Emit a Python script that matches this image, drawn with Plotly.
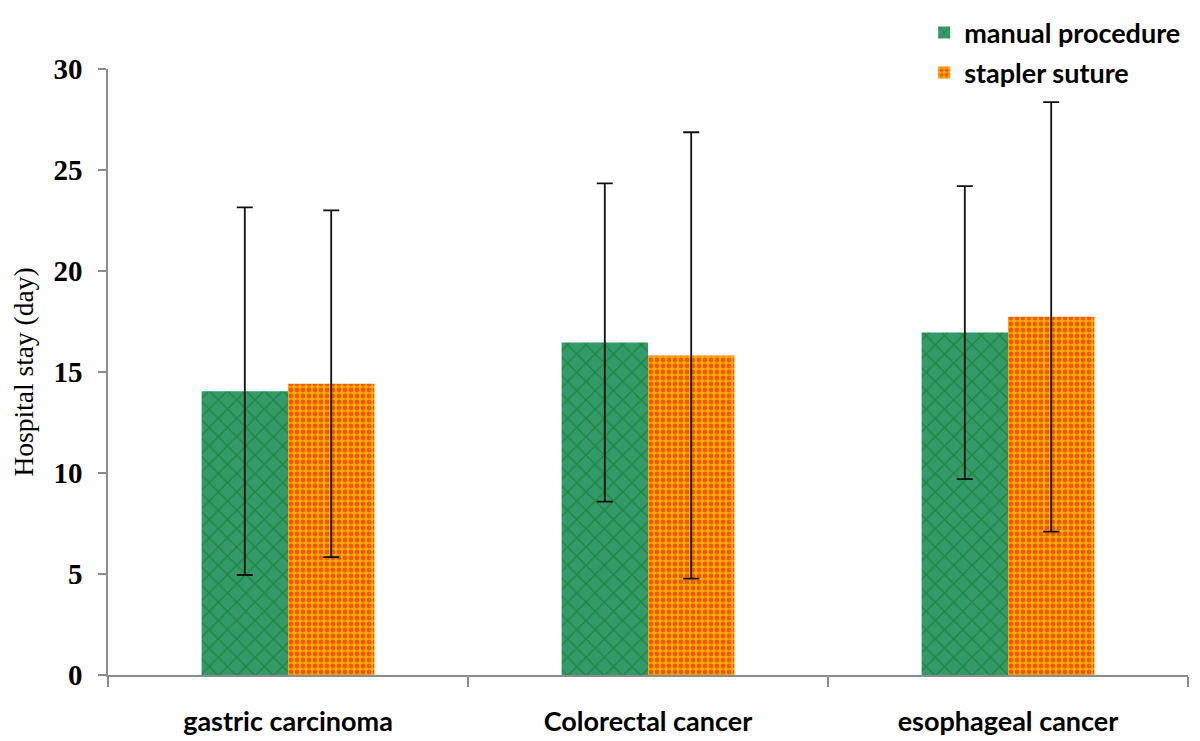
import plotly.graph_objects as go

categories = ["gastric carcinoma", "Colorectal cancer", "esophageal cancer"]
manual_mean = [14.05, 16.46, 16.95]
manual_sd = [9.1, 7.88, 7.25]
stapler_mean = [14.42, 15.82, 17.73]
stapler_sd = [8.58, 11.05, 10.63]
series_names = ["manual procedure", "stapler suture"]
y_ticks = [0, 5, 10, 15, 20, 25, 30]

label_font = "Lato, sans-serif"

fig = go.Figure()
fig.add_trace(go.Bar(
    x=categories, y=manual_mean, name=series_names[0], legendgroup="a",
    marker=dict(color="#339966", line=dict(width=0),
                pattern=dict(shape="x", fgcolor="#0a7515", bgcolor="#349a6a",
                             size=13, solidity=0.22)),
    error_y=dict(type="data", array=manual_sd, color="#111111", thickness=1.8, width=8),
))
fig.add_trace(go.Bar(
    x=categories, y=stapler_mean, name=series_names[1], legendgroup="b",
    marker=dict(color="#FFA500", line=dict(width=0),
                pattern=dict(shape=".", fgcolor="#E00A00", bgcolor="#FFAA00",
                             size=6, solidity=0.5)),
    error_y=dict(type="data", array=stapler_sd, color="#111111", thickness=1.8, width=8),
))

fig.update_layout(
    width=1200, height=741,
    margin=dict(l=100, r=20, t=61, b=74, autoexpand=False),
    paper_bgcolor="white", plot_bgcolor="white",
    barmode="group", bargap=0.52, bargroupgap=0,
    showlegend=True,
    legend=dict(x=0.7557, y=1.1, xanchor="left", yanchor="top",
                font=dict(family=label_font, size=27, color="black", weight="bold"),
                traceorder="grouped", tracegroupgap=2,
                bgcolor="rgba(0,0,0,0)", itemwidth=30),
    xaxis=dict(showline=True, linecolor="#8c8c8c", linewidth=1.5,
               ticks="outside", tickson="boundaries", ticklen=10, tickcolor="#8c8c8c",
               tickwidth=1.5, ticklabelstandoff=22,
               tickfont=dict(family=label_font, size=27, color="black", weight="bold"),
               showgrid=False, zeroline=False),
    yaxis=dict(range=[0, 30], tickvals=y_ticks, showline=True, linecolor="#8c8c8c",
               linewidth=1.5, ticks="outside", ticklen=8, tickcolor="#8c8c8c", tickwidth=1.5,
               tickfont=dict(family="Liberation Serif", size=29, color="black", weight="bold"),
               ticklabelstandoff=10,
               showgrid=False, zeroline=False,
               title=dict(text="Hospital stay (day)", standoff=29,
                          font=dict(family="Liberation Serif", size=27.5, color="black"))),
)
fig.write_html("out.html")
